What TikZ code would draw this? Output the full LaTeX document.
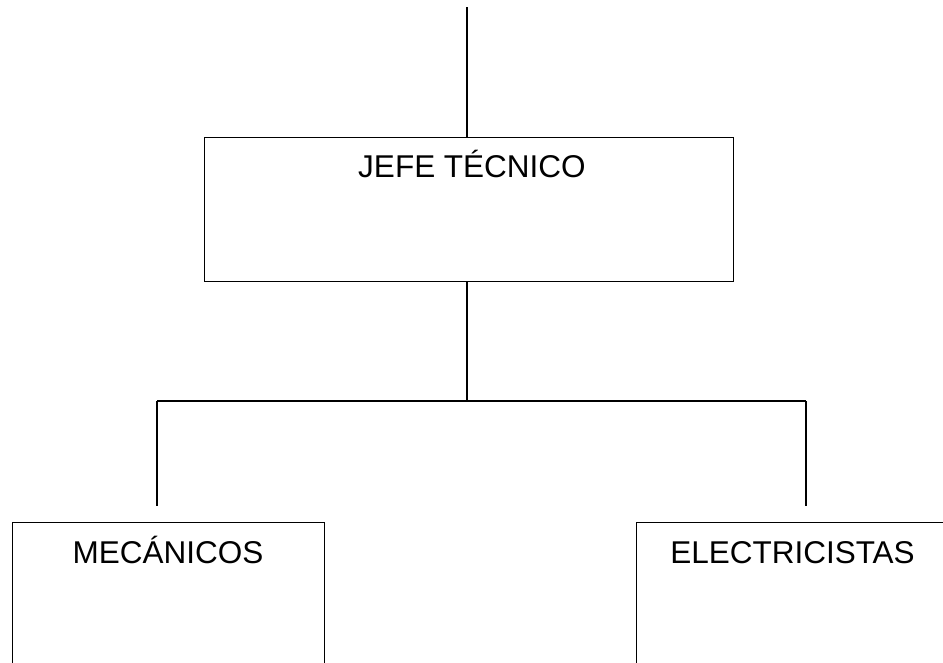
\documentclass[tikz,border=0pt]{standalone}
\usepackage{fontspec}
\setmainfont{Liberation Sans}
\begin{document}
\begin{tikzpicture}[x=1pt,y=-1pt,
  box/.style={draw=black, line width=1.3pt, rectangle, inner sep=0pt},
  lbl/.style={anchor=base, inner sep=0pt, font=\fontsize{31.5}{36}\selectfont},
  conn/.style={draw=black, line width=1.1pt}]
\useasboundingbox (0,0) rectangle (943,662);
\clip (0,0) rectangle (943,662);
% boxes
\node[box, anchor=north west, minimum width=529pt, minimum height=144pt] (jefe) at (204,137) {};
\node[box, anchor=north west, minimum width=312pt, minimum height=200pt] (mec) at (12,522) {};
\node[box, anchor=north west, minimum width=320pt, minimum height=200pt] (elec) at (636,522) {};
% labels
\node[lbl] (tjefe) at (472,177) {JEFE TÉCNICO};
\node[lbl] (tmec) at (168,563) {MECÁNICOS};
\node[lbl] (telec) at (792.5,563) {ELECTRICISTAS};
% connector points
\coordinate (top) at (467,7);
\coordinate (mid) at (467,401);
\coordinate (barL) at (157,401);
\coordinate (barR) at (806,401);
\coordinate (endL) at (157,506);
\coordinate (endR) at (806,506);
% connectors
\draw[conn] (top) -- (jefe.north -| top);
\draw[conn] (jefe.south -| top) -- (mid);
\draw[conn] (barL) -- (barR);
\draw[conn] (barL) -- (endL);
\draw[conn] (barR) -- (endR);
\end{tikzpicture}
\end{document}
